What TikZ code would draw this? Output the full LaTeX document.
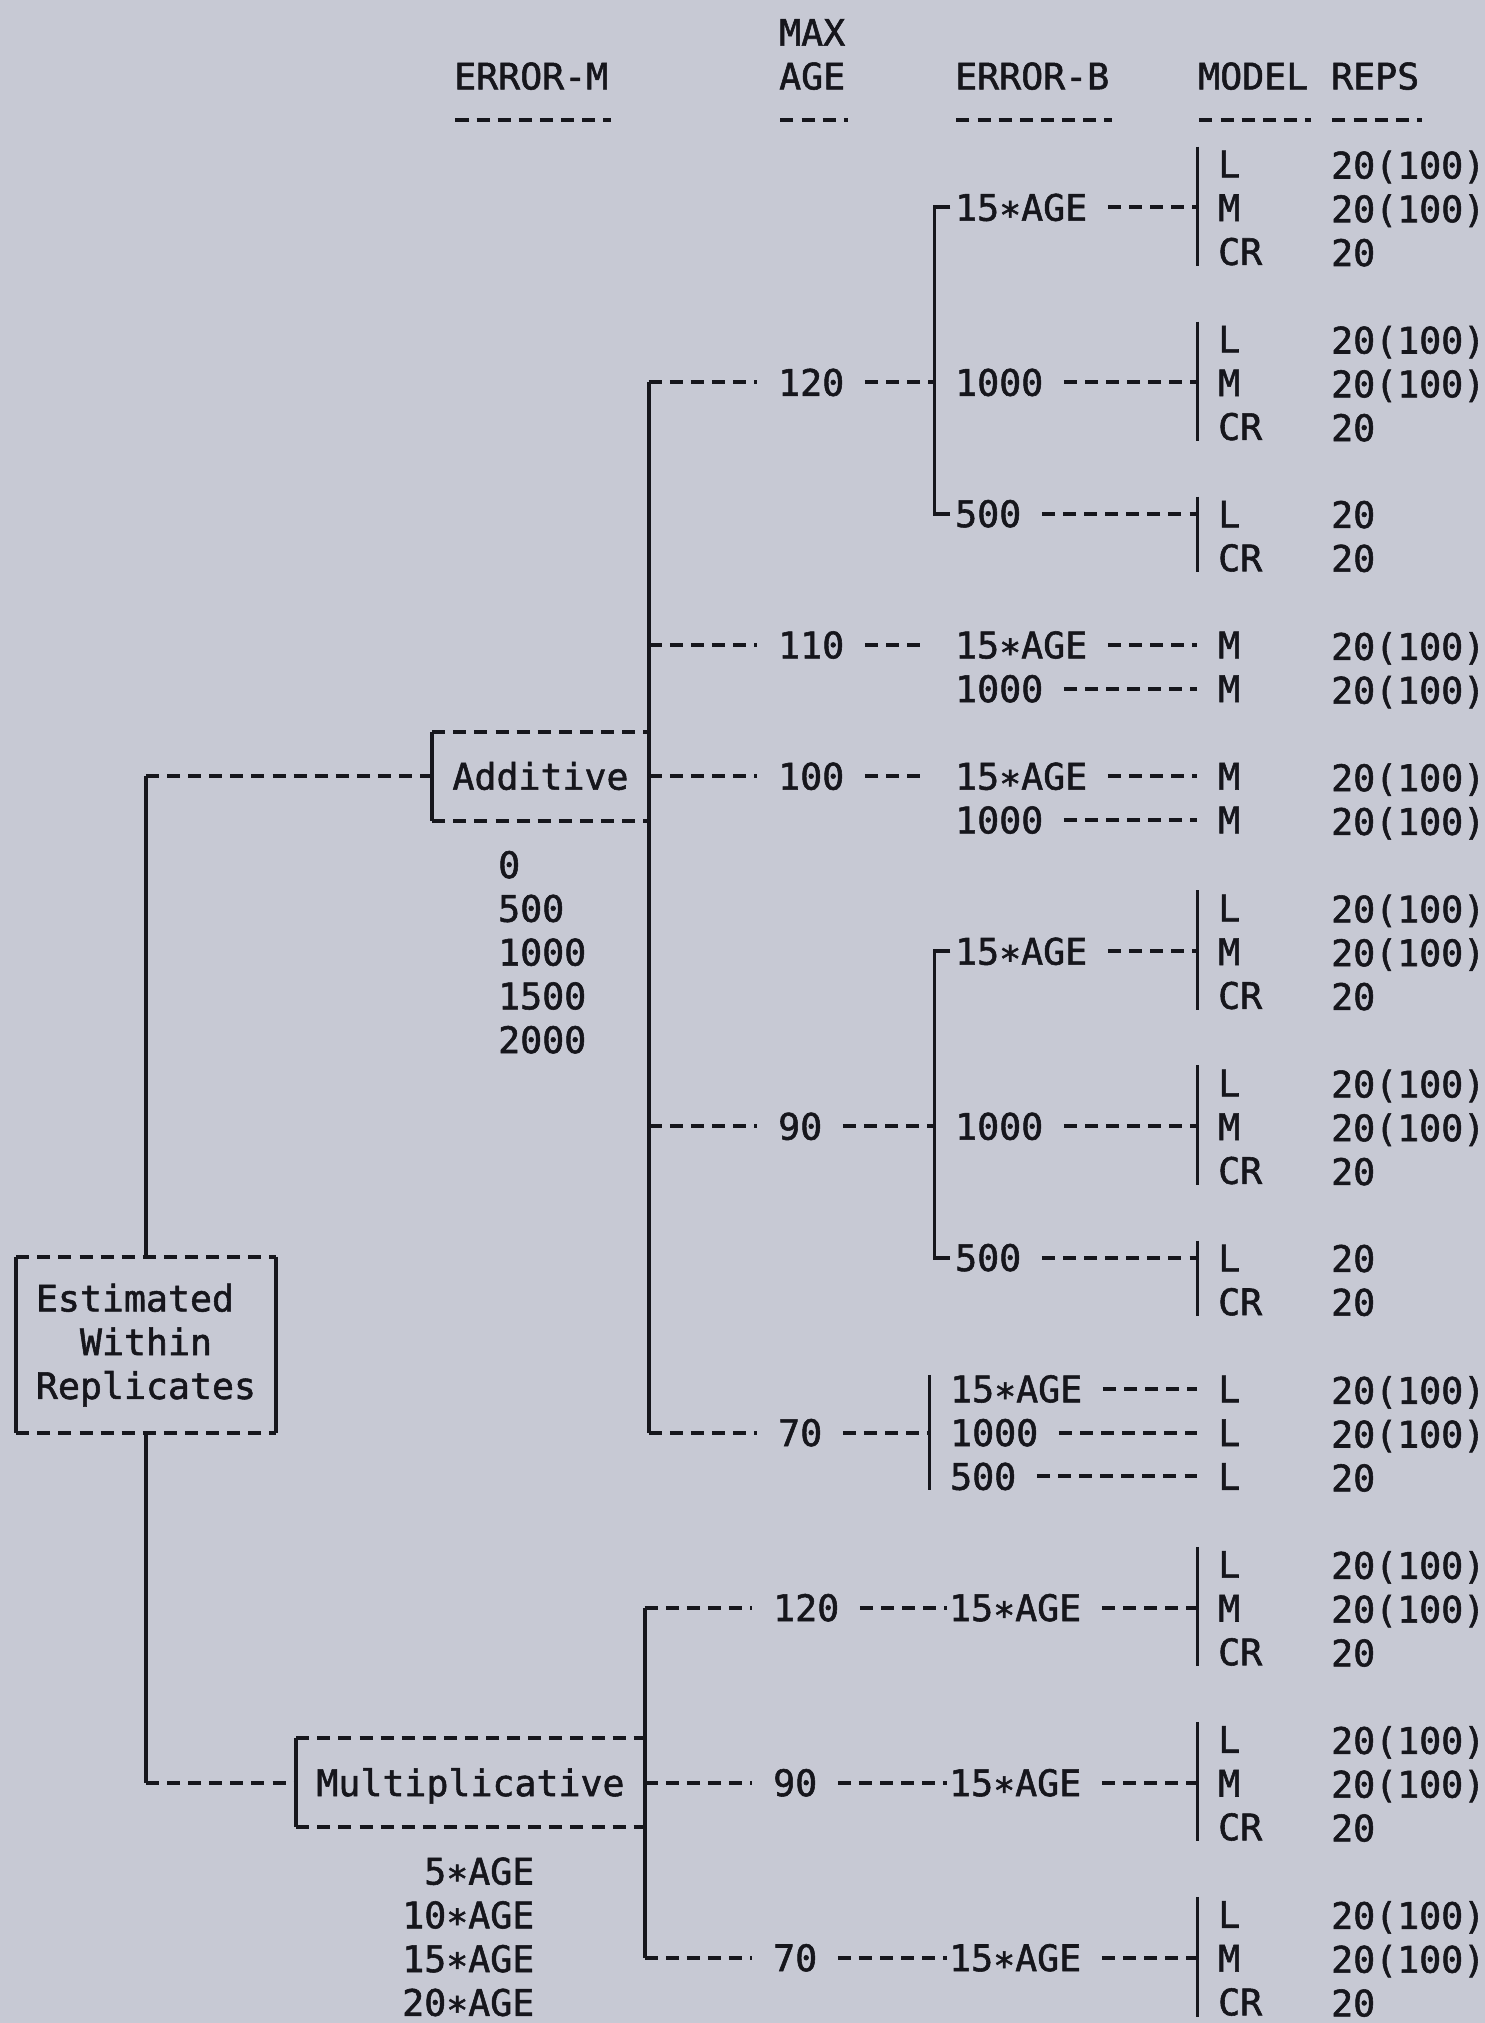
\documentclass[tikz,border=0pt]{standalone}
\usepackage{fontspec}
\usepackage{tikz}
\newfontfamily\plotfont[FakeBold=1.5]{DejaVu Sans Mono}
\newcommand\plottext{\plotfont\fontsize{10.4}{12.45}\selectfont}
\definecolor{paper}{RGB}{199,201,212}
\definecolor{ink}{RGB}{22,22,28}

\begin{document}
\begin{tikzpicture}[x=1cm,y=-0.4376cm,
 ln/.style={ink,line width=1.1pt},
 dl/.style={ln,dash pattern=on 3.7pt off 2.3pt},
 lbl/.style={text=ink,font=\plottext,anchor=west,inner xsep=0.2cm,inner ysep=0pt,text height=7.6pt,text depth=0pt},
 stack/.style={text=ink,font=\plottext,anchor=north west,inner xsep=0.2cm,inner ysep=0pt,align=left},
 frame/.style={text=ink,font=\plottext,inner sep=0pt,text height=7.6pt,text depth=0pt,minimum height=0.8752cm}]
 \useasboundingbox (0,-3.739) rectangle (14.85,42.491);
 \fill[paper] (0,-3.739) rectangle (14.85,42.491);

 \node[lbl] (hErrM) at (4.335,-2) {ERROR-M};
 \node[lbl] (hMax) at (7.585,-3) {MAX};
 \node[lbl] (hAge) at (7.585,-2) {AGE};
 \node[lbl] (hErrB) at (9.345,-2) {ERROR-B};
 \node[lbl] (hModel) at (11.775,-2) {MODEL};
 \node[lbl] (hReps) at (13.105,-2) {REPS};
 \draw[dl] ([shift={(0.22,1)}]hErrM.west) -- ([shift={(-0.18,1)}]hErrM.east);
 \draw[dl] ([shift={(0.22,1)}]hAge.west) -- ([shift={(-0.18,1)}]hAge.east);
 \draw[dl] ([shift={(0.22,1)}]hErrB.west) -- ([shift={(-0.18,1)}]hErrB.east);
 \draw[dl] ([shift={(0.22,1)}]hModel.west) -- ([shift={(-0.18,1)}]hModel.east);
 \draw[dl] ([shift={(0.22,1)}]hReps.west) -- ([shift={(-0.18,1)}]hReps.east);

 \node[text=ink,font=\plottext,align=left,inner sep=0pt,minimum width=2.58cm,minimum height=1.7504cm] (est) at (1.46,27) {Estimated\\\phantom{Es}Within\\Replicates};
 \node[frame,minimum width=2.15cm] (add) at (5.405,14) {Additive};
 \node[frame,minimum width=3.47cm] (mul) at (4.705,37) {Multiplicative};
 \node[stack] (lvAdd) at (4.775,15.69) {0\\500\\1000\\1500\\2000};
 \node[stack,anchor=north east,align=right] (lvMul) at (5.55,38.69) {5∗AGE\\10∗AGE\\15∗AGE\\20∗AGE};

 \draw[dl] (est.north west) -- (est.north east);
 \draw[dl] (est.south west) -- (est.south east);
 \draw[ln] (est.north west) -- (est.south west);
 \draw[ln] (est.north east) -- (est.south east);
 \draw[dl] (add.north west) -- (add.north east);
 \draw[dl] (add.south west) -- (add.south east);
 \draw[ln] (add.north west) -- (add.south west);
 \draw[dl] (mul.north west) -- (mul.north east);
 \draw[dl] (mul.south west) -- (mul.south east);
 \draw[ln] (mul.north west) -- (mul.south west);
 \draw[ln] (est.north) -- (est.north |- add.west) coordinate (kAdd);
 \draw[dl] (kAdd) -- (add.west);
 \draw[ln] (est.south) -- (est.south |- mul.west) coordinate (kMul);
 \draw[dl] (kMul) -- (mul.west);

 \node[lbl] (a120) at (7.575,5) {120};
 \node[lbl] (a110) at (7.575,11) {110};
 \node[lbl] (a100) at (7.575,14) {100};
 \node[lbl] (a90) at (7.575,22) {90};
 \node[lbl] (a70) at (7.575,29) {70};
 \node[lbl] (b120) at (7.525,33) {120};
 \node[lbl] (b90) at (7.525,37) {90};
 \node[lbl] (b70) at (7.525,41) {70};
 \draw[ln] (add.east |- a120.west) -- (add.east |- a70.west);
 \draw[dl] (add.east |- a120.west) -- (a120.west);
 \draw[dl] (add.east |- a110.west) -- (a110.west);
 \draw[dl] (add.east) -- (a100.west);
 \draw[dl] (add.east |- a90.west) -- (a90.west);
 \draw[dl] (add.east |- a70.west) -- (a70.west);
 \draw[ln] (mul.east |- b120.west) -- (mul.east |- b70.west);
 \draw[dl] (mul.east |- b120.west) -- (b120.west);
 \draw[dl] (mul.east) -- (b90.west);
 \draw[dl] (mul.east |- b70.west) -- (b70.west);

 \node[lbl] (e120a) at (9.345,1) {15∗AGE};
 \node[lbl] (e120b) at (9.345,5) {1000};
 \node[lbl] (e120c) at (9.345,8) {500};
 \node[lbl] (e110a) at (9.345,11) {15∗AGE};
 \node[lbl] (e110b) at (9.345,12) {1000};
 \node[lbl] (e100a) at (9.345,14) {15∗AGE};
 \node[lbl] (e100b) at (9.345,15) {1000};
 \node[lbl] (e90a) at (9.345,18) {15∗AGE};
 \node[lbl] (e90b) at (9.345,22) {1000};
 \node[lbl] (e90c) at (9.345,25) {500};
 \node[lbl] (e70a) at (9.295,28) {15∗AGE};
 \node[lbl] (e70b) at (9.295,29) {1000};
 \node[lbl] (e70c) at (9.295,30) {500};
 \node[lbl] (f120) at (9.285,33) {15∗AGE};
 \node[lbl] (f90) at (9.285,37) {15∗AGE};
 \node[lbl] (f70) at (9.285,41) {15∗AGE};

 \draw[ln] ([xshift=1.6mm]e120a.west) -| (e120b.west) |- ([xshift=1.6mm]e120c.west);
 \draw[dl] (a120.east) -- (e120b.west);
 \draw[dl,shorten >=1.2mm] (a110.east) -- (e110a.west);
 \draw[dl,shorten >=1.2mm] (a100.east) -- (e100a.west);
 \draw[ln] ([xshift=1.6mm]e90a.west) -| (e90b.west) |- ([xshift=1.6mm]e90c.west);
 \draw[dl] (a90.east) -- (e90b.west);
 \draw[ln] (e70a.north west) -- (e70c.south west);
 \draw[dl] (a70.east) -- (e70b.west);
 \draw[dl,shorten >=-1.9mm] (b120.east) -- (f120.west);
 \draw[dl,shorten >=-1.9mm] (b90.east) -- (f90.west);
 \draw[dl,shorten >=-1.9mm] (b70.east) -- (f70.west);

 \node[stack] (m120a) at (11.975,-0.31) {L\\M\\CR};
 \node[stack] (m120b) at (11.975,3.69) {L\\M\\CR};
 \node[stack] (m120c) at (11.975,7.69) {L\\CR};
 \node[lbl] (m110a) at (11.975,11) {M};
 \node[lbl] (m110b) at (11.975,12) {M};
 \node[lbl] (m100a) at (11.975,14) {M};
 \node[lbl] (m100b) at (11.975,15) {M};
 \node[stack] (m90a) at (11.975,16.69) {L\\M\\CR};
 \node[stack] (m90b) at (11.975,20.69) {L\\M\\CR};
 \node[stack] (m90c) at (11.975,24.69) {L\\CR};
 \node[lbl] (m70a) at (11.975,28) {L};
 \node[lbl] (m70b) at (11.975,29) {L};
 \node[lbl] (m70c) at (11.975,30) {L};
 \node[stack] (n120) at (11.975,31.69) {L\\M\\CR};
 \node[stack] (n90) at (11.975,35.69) {L\\M\\CR};
 \node[stack] (n70) at (11.975,39.69) {L\\M\\CR};

 \draw[ln] ([yshift=1pt]m120a.north west) -- (m120a.south west);
 \draw[ln] ([yshift=1pt]m120b.north west) -- (m120b.south west);
 \draw[ln] ([yshift=1pt]m120c.north west) -- (m120c.south west);
 \draw[ln] ([yshift=1pt]m90a.north west) -- (m90a.south west);
 \draw[ln] ([yshift=1pt]m90b.north west) -- (m90b.south west);
 \draw[ln] ([yshift=1pt]m90c.north west) -- (m90c.south west);
 \draw[ln] ([yshift=1pt]n120.north west) -- (n120.south west);
 \draw[ln] ([yshift=1pt]n90.north west) -- (n90.south west);
 \draw[ln] ([yshift=1pt]n70.north west) -- (n70.south west);
 \draw[dl] (e120a.east) -- (e120a.east -| m120a.west);
 \draw[dl] (e120b.east) -- (e120b.east -| m120b.west);
 \draw[dl] (e120c.east) -- (e120c.east -| m120c.west);
 \draw[dl] (e110a.east) -- (m110a.west);
 \draw[dl] (e110b.east) -- (m110b.west);
 \draw[dl] (e100a.east) -- (m100a.west);
 \draw[dl] (e100b.east) -- (m100b.west);
 \draw[dl] (e90a.east) -- (e90a.east -| m90a.west);
 \draw[dl] (e90b.east) -- (e90b.east -| m90b.west);
 \draw[dl] (e90c.east) -- (e90c.east -| m90c.west);
 \draw[dl] (e70a.east) -- (m70a.west);
 \draw[dl] (e70b.east) -- (m70b.west);
 \draw[dl] (e70c.east) -- (m70c.west);
 \draw[dl] (f120.east) -- (f120.east -| n120.west);
 \draw[dl] (f90.east) -- (f90.east -| n90.west);
 \draw[dl] (f70.east) -- (f70.east -| n70.west);

 \node[stack] (r120a) at (13.105,-0.31) {20(100)\\20(100)\\20};
 \node[stack] (r120b) at (13.105,3.69) {20(100)\\20(100)\\20};
 \node[stack] (r120c) at (13.105,7.69) {20\\20};
 \node[stack] (r110) at (13.105,10.69) {20(100)\\20(100)};
 \node[stack] (r100) at (13.105,13.69) {20(100)\\20(100)};
 \node[stack] (r90a) at (13.105,16.69) {20(100)\\20(100)\\20};
 \node[stack] (r90b) at (13.105,20.69) {20(100)\\20(100)\\20};
 \node[stack] (r90c) at (13.105,24.69) {20\\20};
 \node[stack] (r70) at (13.105,27.69) {20(100)\\20(100)\\20};
 \node[stack] (s120) at (13.105,31.69) {20(100)\\20(100)\\20};
 \node[stack] (s90) at (13.105,35.69) {20(100)\\20(100)\\20};
 \node[stack] (s70) at (13.105,39.69) {20(100)\\20(100)\\20};
\end{tikzpicture}
\end{document}
